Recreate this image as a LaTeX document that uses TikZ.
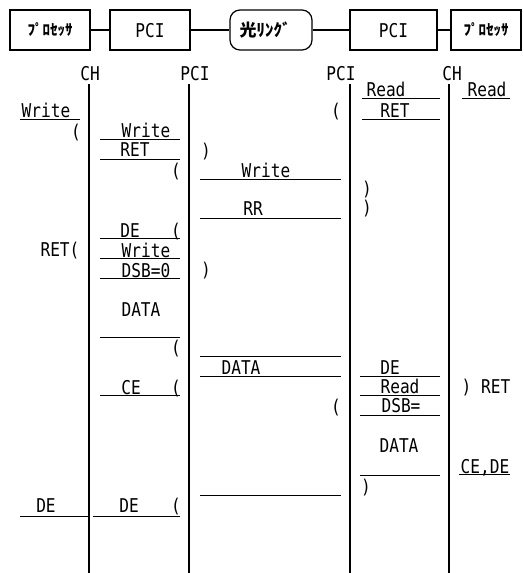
\documentclass[tikz,border=0pt]{standalone}
\usepackage{fontspec}
\newfontfamily\monofont{DejaVu Sans Mono}[FakeStretch=0.85]
\newfontfamily\jpfont{Noto Sans CJK JP}
\begin{document}
\begin{tikzpicture}[
    x=1pt, y=-1pt,
    hdr/.style={rectangle, draw, line width=1.2pt, minimum height=40pt, inner sep=0pt},
    ringbox/.style={hdr, rounded corners=10pt},
    txt/.style={inner sep=0pt, text height=14pt, text depth=0pt, font=\monofont\fontsize{19}{19}\selectfont},
    jp/.style={font=\jpfont\bfseries\fontsize{15}{15}\selectfont},
    ulpen/.style={line width=0.8pt},
    uline/.style={minimum width=#1, minimum height=0pt, inner sep=0pt,
        append after command={(\tikzlastnode.west) edge[ulpen] (\tikzlastnode.east)}},
    life/.style={line width=2.4pt},
]
    \useasboundingbox (0,0) rectangle (524,573);

    % Header boxes
    \node[hdr, minimum width=80pt, jp] (prcL) at (50,30) {ﾌﾟﾛｾｯｻ};
    \node[hdr, minimum width=80pt, txt] (pciL) at (150,30) {PCI};
    \node[ringbox, minimum width=82pt, jp, font=\jpfont\bfseries\fontsize{17}{17}\selectfont] (ring) at (271,30) {光ﾘﾝｸﾞ\hspace*{12pt}};
    \node[hdr, minimum width=87pt, txt] (pciR) at (393.5,30) {PCI};
    \node[hdr, minimum width=70pt, jp] (prcR) at (486,30) {ﾌﾟﾛｾｯｻ};
    \draw[line width=1.2pt] (prcL) -- (pciL);
    \draw[line width=1.2pt] (pciL) -- (ring);
    \draw[line width=1.2pt] (ring) -- (pciR);
    \draw[line width=1.2pt] (pciR) -- (prcR);

    % Lifelines
    \node[txt] (chL) at (90,73) {CH};
    \node[txt] (pcL) at (195,73) {PCI};
    \node[txt] (pcR) at (341,73) {PCI};
    \node[txt] (chR) at (452,73) {CH};
    \foreach \n/\x in {chL/89, pcL/189, pcR/350, chR/449} {
        \coordinate (\n t) at (\x,84);
        \coordinate (\n b) at (\x,573);
        \draw[life] (\n t) -- (\n b);
    }

    % Processor (left)
    \node[txt] (wrA) at (46,110) {Write};
    \node[uline=60] (uwrA) at (50,119) {};
    \node[txt] (pA1) at (76,131) {(};
    \node[txt] (retA) at (60,249) {RET(};
    \node[txt] (deA) at (46,505) {DE};
    \node[uline=68] (udeA) at (54,516) {};

    % PCI (left)
    \node[txt] (wrB) at (146,130) {Write};
    \node[uline=80] (uwrB) at (140,139) {};
    \node[txt] (retB) at (135,149) {RET};
    \node[uline=80] (uretB) at (140,159) {};
    \node[txt] (pB1) at (176,170) {(};
    \node[txt] (deB1) at (130,230) {DE};
    \node[txt] (pB2) at (176,230) {(};
    \node[uline=80] (udeB1) at (140,238) {};
    \node[txt] (wrB2) at (146,250) {Write};
    \node[uline=80] (uwrB2) at (140,258) {};
    \node[txt] (dsbB) at (146,270) {DSB=0};
    \node[uline=80] (udsbB) at (140,278) {};
    \node[txt] (daB) at (141,309) {DATA};
    \node[uline=80] (udaB) at (140,337) {};
    \node[txt] (pB3) at (176,347) {(};
    \node[txt] (ceB) at (131,387) {CE};
    \node[txt] (pB4) at (176,387) {(};
    \node[uline=80] (uceB) at (140,395) {};
    \node[txt] (deB2) at (129,505) {DE};
    \node[txt] (pB5) at (176,505) {(};
    \node[uline=87] (udeB2) at (136.5,516) {};

    % Optical ring
    \node[txt] (qC1) at (206,150) {)};
    \node[txt] (wrC) at (266,170) {Write};
    \node[uline=141] (uwrC) at (270.5,179) {};
    \node[txt] (rrC) at (253,208) {RR};
    \node[uline=141] (urrC) at (270.5,218) {};
    \node[txt] (qC2) at (206,269) {)};
    \node[uline=141] (ulnC) at (270.5,356) {};
    \node[txt] (daC) at (241,367) {DATA};
    \node[uline=141] (udaC) at (270.5,376) {};
    \node[uline=141] (uendC) at (270.5,495) {};

    % PCI (right)
    \node[txt] (pD1) at (336,110) {(};
    \node[txt] (rdD) at (386,89) {Read};
    \node[uline=78] (urdD) at (401,98) {};
    \node[txt] (retD) at (395,110) {RET};
    \node[uline=78] (uretD) at (401,119) {};
    \node[inner sep=0pt, align=center, font=\monofont\fontsize{19}{19}\selectfont] (qD1) at (367,199) {)\\)};
    \node[txt] (deD) at (390,367) {DE};
    \node[uline=80] (udeD) at (400,376) {};
    \node[txt] (rdD2) at (400,386) {Read};
    \node[uline=80] (urdD2) at (400,395) {};
    \node[txt] (dsbD) at (401,405) {DSB=};
    \node[uline=80] (udsbD) at (400,415) {};
    \node[txt] (pD2) at (336,406) {(};
    \node[txt] (daD) at (399,445) {DATA};
    \node[uline=80] (udaD) at (400,475) {};
    \node[txt] (qD3) at (366,486) {)};

    % Processor (right)
    \node[txt] (rdE) at (487,89) {Read};
    \node[uline=48] (urdE) at (486,98) {};
    \node[txt] (retE) at (486,386) {) RET};
    \node[txt] (cdE) at (485,466) {CE,DE};
    \node[uline=51] (ucdE) at (484.5,474) {};
\end{tikzpicture}
\end{document}
